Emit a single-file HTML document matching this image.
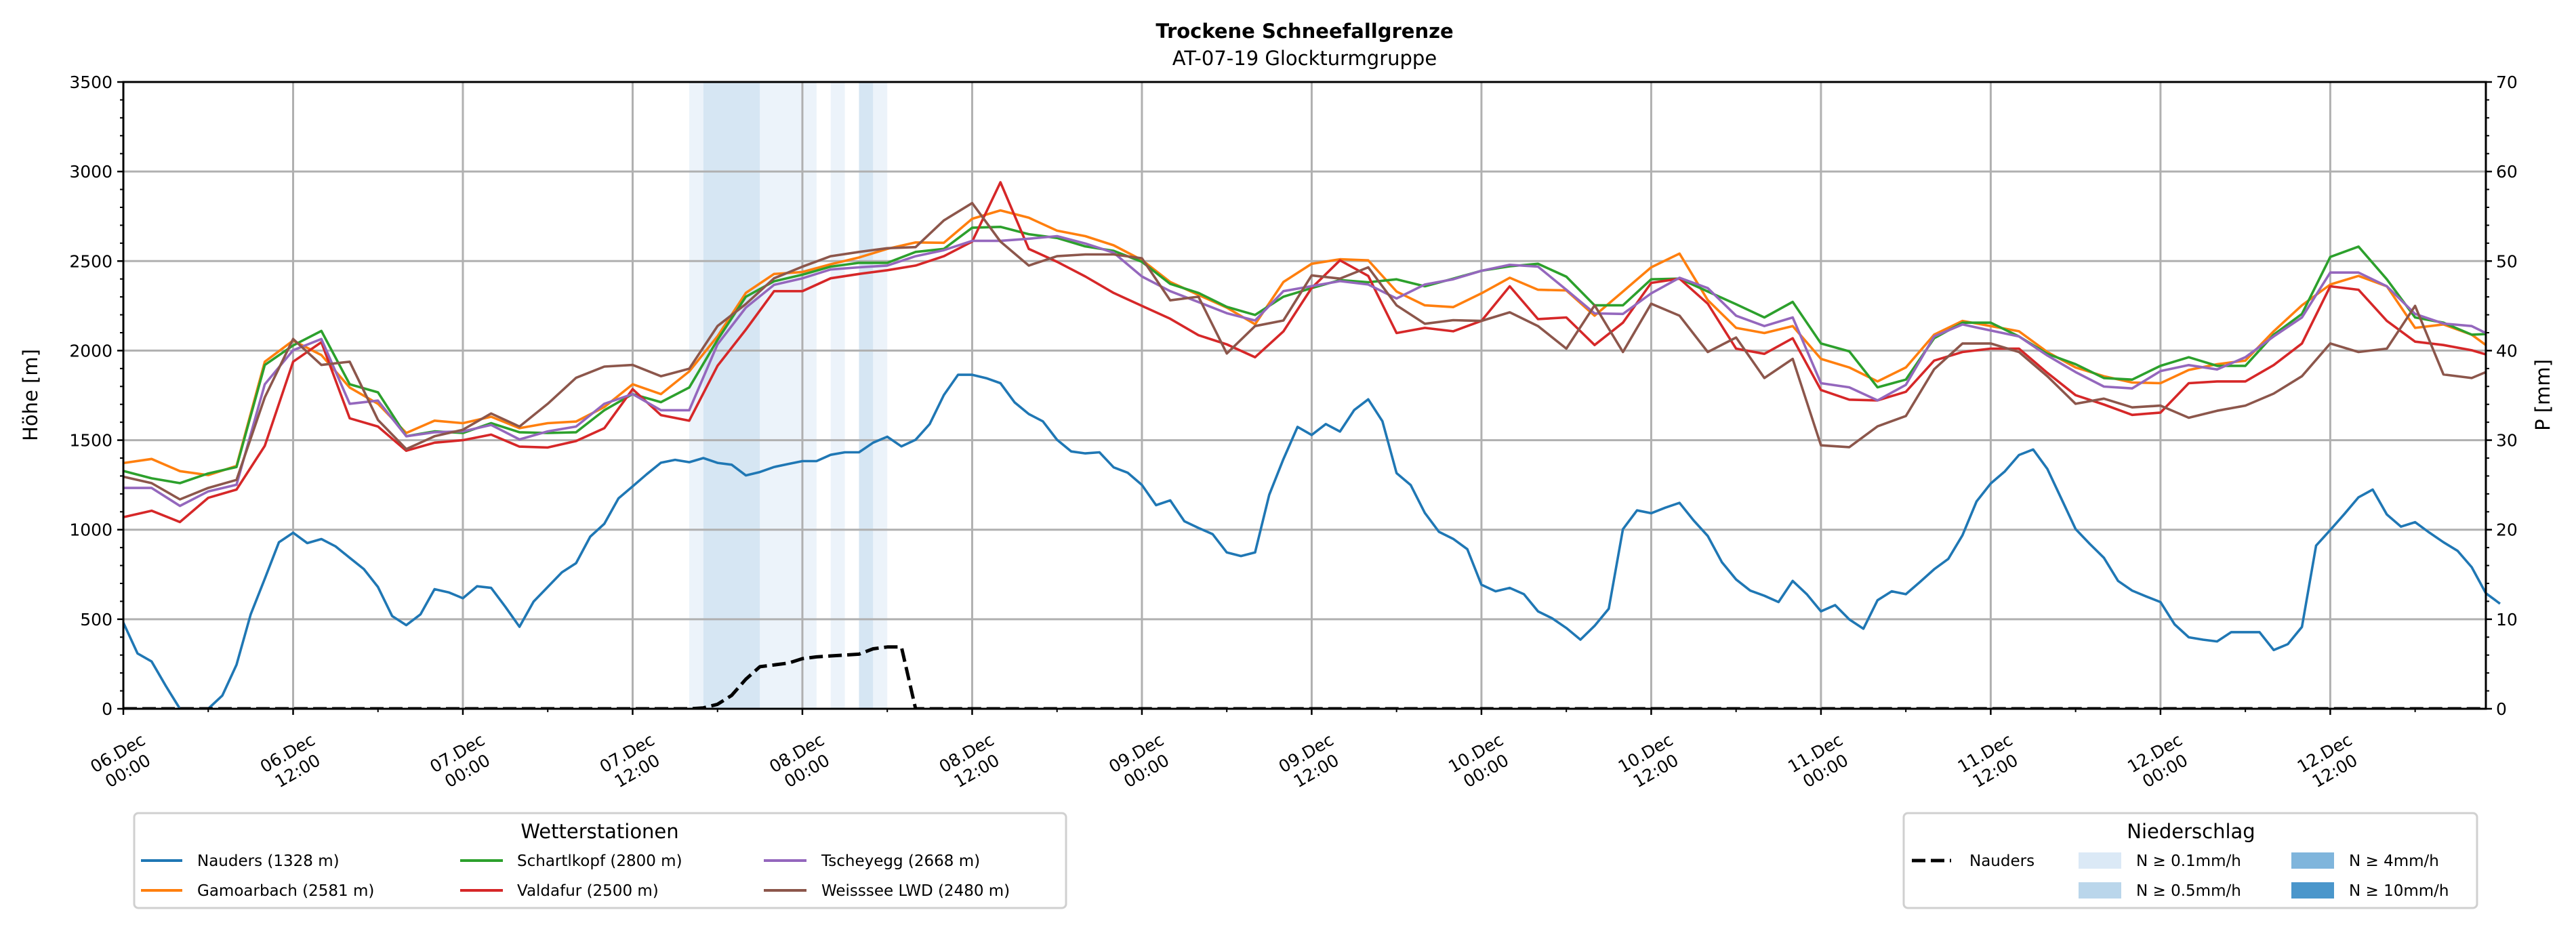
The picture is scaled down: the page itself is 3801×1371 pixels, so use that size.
<!DOCTYPE html>
<html><head><meta charset="utf-8">
<style>
html,body{margin:0;padding:0;background:#fff;}
svg{display:block;font-family:"DejaVu Sans","Liberation Sans",sans-serif;}
</style></head>
<body>
<svg id="chart" width="3801" height="1371" viewBox="0 0 3801 1371" xmlns="http://www.w3.org/2000/svg">
<rect width="3801" height="1371" fill="#fff"/>
<text x="1925" y="56" text-anchor="middle" font-size="29" font-weight="bold">Trockene Schneefallgrenze</text>
<text x="1925" y="96" text-anchor="middle" font-size="29">AT-07-19 Glockturmgruppe</text>
<g id="bands"></g>
<g id="grid"></g>
<g id="series"></g>
<g id="axes"></g>
<text transform="translate(55,583) rotate(-90)" text-anchor="middle" font-size="29">Höhe [m]</text>
<text transform="translate(3762,583) rotate(-90)" text-anchor="middle" font-size="29">P [mm]</text>
<g>
<rect x="198" y="1200" width="1375" height="140" rx="6" fill="#fff" stroke="#d0d0d0" stroke-width="3"/>
<text x="885" y="1237" text-anchor="middle" font-size="29">Wetterstationen</text>
<line x1="208" y1="1270" x2="269" y2="1270" stroke="#1f77b4" stroke-width="4"/><text x="291" y="1278" font-size="23">Nauders (1328 m)</text>
<line x1="208" y1="1314" x2="269" y2="1314" stroke="#ff7f0e" stroke-width="4"/><text x="291" y="1322" font-size="23">Gamoarbach (2581 m)</text>
<line x1="679" y1="1270" x2="742" y2="1270" stroke="#2ca02c" stroke-width="4"/><text x="763" y="1278" font-size="23">Schartlkopf (2800 m)</text>
<line x1="679" y1="1314" x2="742" y2="1314" stroke="#d62728" stroke-width="4"/><text x="763" y="1322" font-size="23">Valdafur (2500 m)</text>
<line x1="1127" y1="1270" x2="1190" y2="1270" stroke="#9467bd" stroke-width="4"/><text x="1212" y="1278" font-size="23">Tscheyegg (2668 m)</text>
<line x1="1127" y1="1314" x2="1190" y2="1314" stroke="#8c564b" stroke-width="4"/><text x="1212" y="1322" font-size="23">Weisssee LWD (2480 m)</text>
</g>
<g>
<rect x="2809" y="1200" width="846" height="140" rx="6" fill="#fff" stroke="#d0d0d0" stroke-width="3"/>
<text x="3233" y="1237" text-anchor="middle" font-size="29">Niederschlag</text>
<line x1="2821" y1="1270" x2="2879" y2="1270" stroke="#000" stroke-width="5" stroke-dasharray="20 8"/><text x="2906" y="1278" font-size="23">Nauders</text>
<rect x="3067" y="1258" width="63" height="24" fill="#dbe9f6"/><text x="3152" y="1278" font-size="23">N ≥ 0.1mm/h</text>
<rect x="3067" y="1302" width="63" height="24" fill="#bad6eb"/><text x="3152" y="1322" font-size="23">N ≥ 0.5mm/h</text>
<rect x="3381" y="1258" width="63" height="24" fill="#7fb5dc"/><text x="3466" y="1278" font-size="23">N ≥ 4mm/h</text>
<rect x="3381" y="1302" width="63" height="24" fill="#4a96cb"/><text x="3466" y="1322" font-size="23">N ≥ 10mm/h</text>
</g>
</svg>
<script>
// ---- data ----
const yTicks = [0,500,1000,1500,2000,2500,3000,3500];
const y2Ticks = [0,10,20,30,40,50,60,70];
const xTickHours = [0,12,24,36,48,60,72,84,96,108,120,132,144,156];
const xTickDates = ["06.Dec","06.Dec","07.Dec","07.Dec","08.Dec","08.Dec","09.Dec","09.Dec","10.Dec","10.Dec","11.Dec","11.Dec","12.Dec","12.Dec"];
const xTickTimes = ["00:00","12:00","00:00","12:00","00:00","12:00","00:00","12:00","00:00","12:00","00:00","12:00","00:00","12:00"];
const nauders = [481,309,264,128,0,-60,0,74,246,527,726,930,983,925,948,907,843,780,680,518,467,527,668,650,617,684,675,570,458,599,680,762,813,961,1033,1175,1242,1310,1374,1390,1377,1400,1373,1363,1303,1322,1350,1367,1383,1383,1418,1432,1432,1486,1519,1465,1502,1590,1752,1865,1865,1846,1818,1711,1646,1605,1502,1437,1426,1432,1348,1318,1250,1137,1164,1047,1010,975,873,853,873,1195,1394,1574,1529,1590,1548,1668,1728,1606,1316,1249,1094,988,949,891,693,656,675,640,544,505,451,386,463,559,1003,1108,1092,1123,1150,1052,965,818,722,660,631,596,714,640,544,579,499,447,606,656,640,708,779,837,969,1158,1258,1326,1417,1448,1340,1172,1004,921,843,714,660,627,596,471,399,386,376,428,428,428,328,361,457,911,998,1088,1181,1224,1085,1017,1042,984,930,882,791,645,587];
const stationHours = [0,2,4,6,8,10,12,14,16,18,20,22,24,26,28,30,32,34,36,38,40,42,44,46,48,50,52,54,56,58,60,62,64,66,68,70,72,74,76,78,80,82,84,86,88,90,92,94,96,98,100,102,104,106,108,110,112,114,116,118,120,122,124,126,128,130,132,134,136,138,140,142,144,146,148,150,152,154,156,158,160,162,164,166,167];
const gamoarbach = [1372,1395,1327,1305,1356,1938,2056,1975,1794,1703,1540,1609,1595,1631,1567,1595,1604,1685,1812,1757,1884,2080,2322,2428,2439,2482,2520,2568,2604,2602,2736,2783,2742,2670,2639,2588,2506,2383,2311,2240,2147,2383,2485,2510,2504,2330,2253,2243,2320,2407,2340,2336,2195,2330,2465,2542,2282,2127,2098,2137,1954,1906,1828,1906,2089,2166,2137,2108,1992,1906,1857,1822,1818,1892,1924,1944,2108,2253,2369,2417,2359,2127,2146,2089,2031];
const schartlkopf = [1328,1287,1260,1314,1350,1920,2029,2110,1812,1767,1522,1549,1540,1595,1544,1540,1544,1667,1757,1712,1794,2060,2301,2387,2424,2469,2490,2490,2551,2568,2686,2691,2650,2629,2582,2557,2496,2373,2322,2244,2199,2301,2349,2394,2382,2398,2359,2402,2446,2471,2485,2413,2253,2253,2398,2402,2330,2259,2185,2272,2040,1996,1795,1838,2069,2156,2156,2079,1982,1924,1847,1838,1915,1963,1915,1915,2089,2205,2523,2581,2398,2185,2156,2089,2093];
const tscheyegg = [1233,1233,1133,1214,1251,1812,2002,2065,1703,1721,1522,1544,1549,1585,1504,1549,1576,1703,1757,1667,1667,2035,2240,2367,2404,2453,2465,2475,2527,2561,2613,2613,2625,2639,2598,2547,2414,2332,2271,2209,2168,2332,2360,2388,2369,2291,2369,2398,2446,2479,2469,2340,2208,2205,2320,2407,2349,2195,2137,2185,1818,1795,1722,1809,2079,2146,2112,2079,1973,1880,1799,1789,1886,1919,1895,1963,2079,2185,2436,2436,2359,2205,2151,2137,2098];
const valdafur = [1070,1106,1043,1178,1224,1468,1938,2047,1622,1576,1441,1486,1500,1531,1464,1459,1495,1567,1785,1640,1609,1915,2117,2332,2332,2404,2428,2449,2475,2527,2609,2940,2568,2496,2414,2322,2250,2178,2086,2035,1963,2107,2350,2504,2417,2098,2127,2108,2166,2359,2176,2185,2031,2156,2378,2402,2262,2011,1982,2069,1780,1726,1722,1770,1944,1992,2011,2011,1876,1751,1699,1641,1654,1818,1828,1828,1919,2040,2359,2340,2166,2050,2031,2002,1979];
const weisssee = [1296,1260,1169,1233,1278,1739,2065,1920,1938,1613,1450,1522,1558,1649,1576,1703,1848,1911,1920,1857,1899,2137,2260,2404,2469,2527,2551,2572,2578,2727,2824,2609,2475,2527,2537,2537,2516,2281,2301,1984,2137,2168,2420,2402,2465,2253,2150,2170,2166,2214,2137,2011,2253,1992,2262,2195,1992,2073,1847,1954,1471,1461,1577,1635,1896,2040,2040,1992,1857,1703,1732,1683,1693,1625,1664,1693,1760,1857,2040,1992,2011,2250,1867,1847,1880];
const precipHours = [0,40,41,42,43,44,45,46,47,48,49,50,51,52,53,54,55,56,167];
const precipValues = [0,0,0.1,0.5,1.5,3.3,4.7,4.9,5.1,5.6,5.8,5.9,6.0,6.1,6.7,6.9,6.9,0,0];
const bandStarts = [40,41,45,50,52,53];
const bandEnds = [41,45,49,51,53,54];
const bandLevels = [0,1,0,0,1,0];

// ---- scales ----
const X0=182, X1=3668, Y0=1046, Y1=121, HMAX=167, VMAX=3500, PMAX=70;
const x = h => X0 + h*(X1-X0)/HMAX;
const y = v => Y0 - v*(Y0-Y1)/VMAX;
const yp = p => Y0 - p*(Y0-Y1)/PMAX;
const NS="http://www.w3.org/2000/svg";
function mk(tag, attrs, parent){const e=document.createElementNS(NS,tag);for(const k in attrs)e.setAttribute(k,attrs[k]);parent.appendChild(e);return e;}

const bands=document.getElementById('bands');
const bandColors=["#ecf3fa","#d6e6f3"];
bandStarts.forEach((s,i)=>{
  const r=mk('rect',{x:x(s),y:Y1,width:x(bandEnds[i])-x(s),height:Y0-Y1,fill:bandColors[bandLevels[i]]},bands);
  
  
});

const grid=document.getElementById('grid');
yTicks.forEach(v=>{const l=mk('line',{x1:X0,x2:X1,y1:y(v),y2:y(v),stroke:"#b0b0b0","stroke-width":3},grid);
  
  });
xTickHours.forEach(h=>{const l=mk('line',{x1:x(h),x2:x(h),y1:Y1,y2:Y0,stroke:"#b0b0b0","stroke-width":3},grid);
  
  });

const ser=document.getElementById('series');
function line(hs, vs, color, name, fy, dash){
  const pts=hs.map((h,i)=>x(h).toFixed(1)+","+fy(vs[i]).toFixed(1)).join(" ");
  const p=mk('polyline',{points:pts,fill:"none",stroke:color,"stroke-width":dash?5:3.6,"stroke-linejoin":"round"},ser);
  if(dash)p.setAttribute('stroke-dasharray','20 8');
  
  
}
line(nauders.map((_,i)=>i), nauders, "#1f77b4","nauders-line",y);
line(stationHours, gamoarbach, "#ff7f0e","gamoarbach-line",y);
line(stationHours, schartlkopf, "#2ca02c","schartlkopf-line",y);
line(stationHours, valdafur, "#d62728","valdafur-line",y);
line(stationHours, tscheyegg, "#9467bd","tscheyegg-line",y);
line(stationHours, weisssee, "#8c564b","weisssee-line",y);
line(precipHours, precipValues, "#000","nauders-precip-line",yp,true);

const ax=document.getElementById('axes');
mk('rect',{x:X0-2,y:Y0+1,width:X1-X0+4,height:40,fill:"#fff"},ax);
mk('rect',{x:X0,y:Y1,width:X1-X0,height:Y0-Y1,fill:"none",stroke:"#000","stroke-width":3},ax);
yTicks.forEach(v=>{
  mk('line',{x1:X0-9,x2:X0,y1:y(v),y2:y(v),stroke:"#000","stroke-width":2.5},ax);
  const t=mk('text',{x:X0-16,y:y(v)+9,"text-anchor":"end","font-size":25},ax);t.textContent=v;
  
  
});
for(let v=100;v<VMAX;v+=100){ if(v%500) mk('line',{x1:X0-5,x2:X0,y1:y(v),y2:y(v),stroke:"#000","stroke-width":2},ax); }
y2Ticks.forEach(p=>{
  mk('line',{x1:X1,x2:X1+9,y1:yp(p),y2:yp(p),stroke:"#000","stroke-width":2.5},ax);
  const t=mk('text',{x:X1+15,y:yp(p)+9,"font-size":25},ax);t.textContent=p;
  
  
});
for(let p=2;p<PMAX;p+=2){ if(p%10) mk('line',{x1:X1,x2:X1+5,y1:yp(p),y2:yp(p),stroke:"#000","stroke-width":2},ax); }
for(let h=6;h<HMAX;h+=12){ mk('line',{x1:x(h),x2:x(h),y1:Y0,y2:Y0+5,stroke:"#000","stroke-width":2},ax); }
xTickHours.forEach((h,i)=>{
  mk('line',{x1:x(h),x2:x(h),y1:Y0,y2:Y0+9,stroke:"#000","stroke-width":2.5},ax);
  const g=mk('g',{transform:`translate(${x(h)},${Y0+80}) rotate(-30)`},ax);
  const t1=mk('text',{x:0,y:-8,"text-anchor":"middle","font-size":25},g);t1.textContent=xTickDates[i];
  
  
  const t2=mk('text',{x:0,y:22,"text-anchor":"middle","font-size":25},g);t2.textContent=xTickTimes[i];
  
  
});
</script>
</body></html>
